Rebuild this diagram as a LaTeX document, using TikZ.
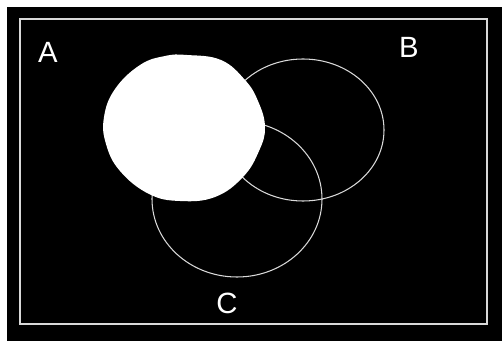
\documentclass[tikz,border=0pt]{standalone}
\usepackage{fontspec}
\setsansfont{Liberation Sans}
\begin{document}
\begin{tikzpicture}[x=0.03cm,y=-0.03cm,
  set line/.style={draw=white!85!black,line width=0.9pt},
  set label/.style={text=white,font=\fontsize{25}{30}\sffamily,inner sep=0pt}]
\useasboundingbox (0,0) rectangle (502,341);
\fill[white] (0,0) rectangle (502,341);
\fill[black] (7,7) rectangle (502,341);
\draw[set line] (20,19) rectangle (487,324);
\draw[set line] (303,130) ellipse (81 and 71);
\draw[set line] (237,199) ellipse (85 and 78);
\fill[white] plot[smooth cycle,tension=0.7] coordinates {(187,55) (221,60) (245,80) (258,101) (265,127) (259,151) (243,177) (215,197) (180,201) (149,194) (120,171) (106,144) (104,117) (115,89) (140,65) (165,56)};
\node[set label] (labelA) at (48,52) {A};
\node[set label] (labelB) at (409,47) {B};
\node[set label] (labelC) at (227,303) {C};
\end{tikzpicture}
\end{document}
